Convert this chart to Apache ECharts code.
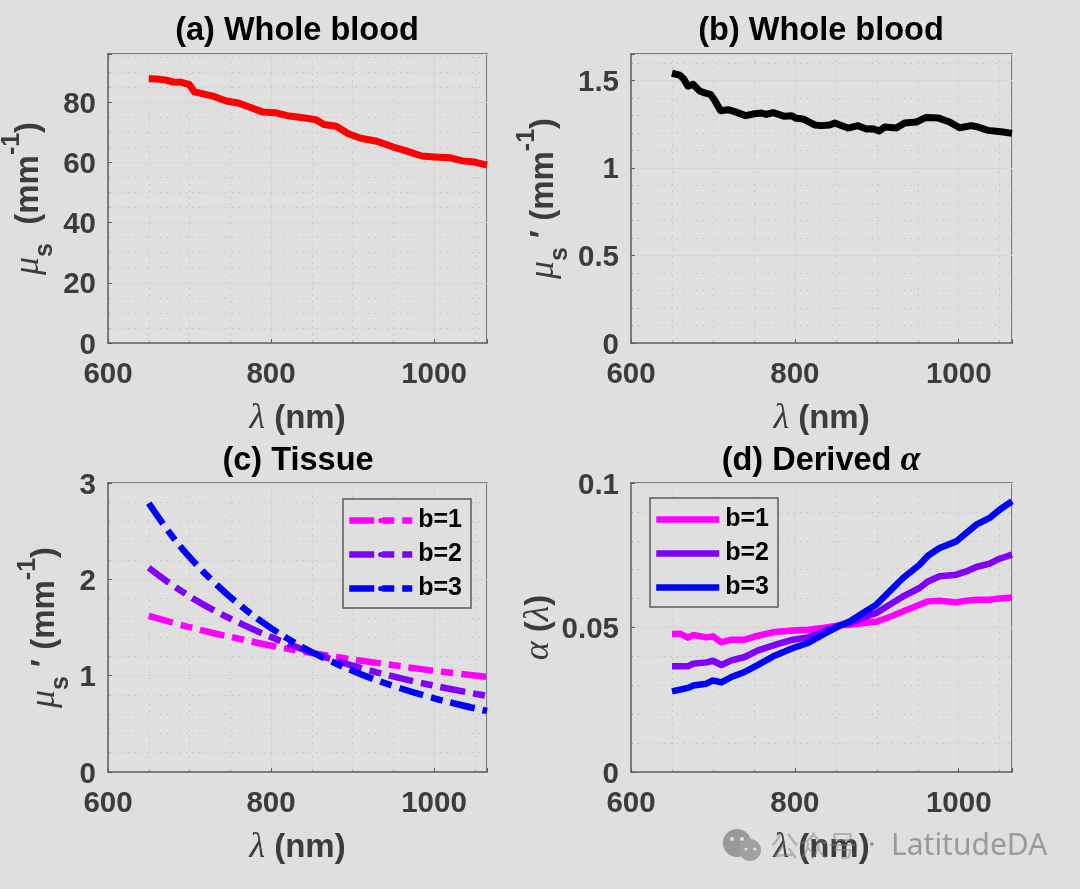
<!DOCTYPE html>
<html><head><meta charset="utf-8">
<style>html,body{margin:0;padding:0;background:#dfdfdf}#c{width:1080px;height:889px}</style>
<script src="https://cdn.jsdelivr.net/npm/echarts@6/dist/echarts.min.js"></script>
</head><body><div id="c"></div>
<script>
const xTicks = [600, 800, 1000];

const lambdaA = [650,660,670,680,690,700,706,730,745,760,775,790,805,820,835,855,865,880,895,910,930,950,965,985,1000,1020,1035,1050,1065];
const muS = [87.8,87.7,87.4,86.7,86.6,85.8,83.4,81.9,80.4,79.7,78.2,76.7,76.5,75.5,75,74.2,72.6,72,69.5,68,67,65.1,63.9,62.1,61.8,61.5,60.5,60.1,59.1];

const lambdaB = [650,652.1,659.4,664.3,669.5,675.7,683.8,689.9,696.9,702.1,709.4,718.3,726.5,739.9,750.9,759.1,765.2,773.3,787.5,795.7,801.8,810,824.2,832.3,842.5,848.5,864.8,877,887.2,895.3,902.6,909.5,923.8,933.9,948.2,960.4,974.6,988.8,1001,1015.3,1023.4,1035.6,1051.9,1065];
const muSPrimeBlood = [1.54,1.54,1.529,1.508,1.466,1.477,1.439,1.428,1.42,1.386,1.326,1.332,1.321,1.298,1.309,1.313,1.305,1.315,1.294,1.298,1.283,1.279,1.245,1.241,1.245,1.256,1.227,1.241,1.222,1.223,1.21,1.233,1.228,1.256,1.262,1.288,1.285,1.262,1.229,1.241,1.233,1.214,1.206,1.197];

const lambdaC1 = [650,697,730,763,801,840,890,932,996,1065];
const tissueB1 = [1.62,1.51,1.44,1.38,1.31,1.25,1.18,1.13,1.055,0.988];
const lambdaC2 = [650,679,721,763,806,848,890,932,996,1065];
const tissueB2 = [2.12,1.94,1.72,1.54,1.38,1.245,1.13,1.03,0.903,0.79];
const lambdaC3 = [650,675,696,730,763,801,840,869,911,954,996,1034,1065];
const tissueB3 = [2.79,2.49,2.27,1.97,1.725,1.488,1.29,1.167,1.013,0.882,0.775,0.693,0.634];

const lambdaD = [650,660,669.5,675.7,692,700,710.3,722.5,738.7,755,775.3,797.7,816,836.3,856.7,866.8,883,899.4,915.6,932,952.2,962.4,976.6,997,1009.2,1021.4,1037.7,1049.8,1065];
const alphaB1 = [.04775,.04786,.04647,.0474,.04658,.04693,.04485,.04578,.04578,.04716,.04844,.049,.04924,.0499,.0509,.05097,.05155,.052,.05363,.05558,.05789,.05904,.05927,.05869,.05927,.05962,.05962,.06007,.0604];
const alphaB2 = [.03655,.0366,.03655,.03747,.03793,.0385,.03702,.03862,.0398,.04208,.04395,.04578,.04658,.0489,.0509,.05155,.0533,.055,.0579,.06076,.06367,.06595,.0677,.06827,.0694,.07093,.07208,.0738,.0752];
const alphaB3 = [.0279,.0285,.0291,.0299,.03055,.0317,.031,.03287,.0346,.0371,.04024,.0429,.04464,.04786,.0509,.05211,.055,.0579,.0625,.06713,.07173,.07484,.0775,.0798,.0827,.08557,.0879,.09076,.0937];

const cMagenta = '#ff00ff', cPurple = '#8000ff', cBlue = '#0000ff';
const zip = (xs, ys) => xs.map((x, i) => [x, ys[i]]);

const TICK = '#3c3c3c', AXIS = '#5c5c5c', SANS = '"Liberation Sans", Arial, sans-serif', SERIF = '"Liberation Serif", serif';
const nameRich = {
  b:   {fontFamily: SANS, fontWeight: 'bold', fontSize: 33, color: TICK, lineHeight: 58},
  g:   {fontFamily: SERIF, fontStyle: 'italic', fontSize: 36, color: TICK, lineHeight: 58},
  s:   {fontFamily: SANS, fontWeight: 'bold', fontSize: 25, color: TICK, verticalAlign: 'bottom', lineHeight: 36},
  sup: {fontFamily: SANS, fontWeight: 'bold', fontSize: 25, color: TICK, verticalAlign: 'top', lineHeight: 29}
};
const xName = '{g|λ}{b| (nm)}';
const panels = [
  {left:108, top:54,  width:379, height:289, ymax:96,   yminor:5,   ymajor:20,  yticks:[0,20,40,60,80], yname:'{g|μ}{s|s}{b|  (mm}{sup|-1}{b|)}', gap:50},
  {left:631, top:54,  width:381, height:289, ymax:1.65, yminor:0.1, ymajor:0.5, yticks:[0,0.5,1,1.5], yname:'{g|μ}{s|s}{b| ′ (mm}{sup|-1}{b|)}', gap:58},
  {left:108, top:483, width:379, height:289, ymax:3,    yminor:0.2, ymajor:1,   yticks:[0,1,2,3], yname:'{g|μ}{s|s}{b| ′ (mm}{sup|-1}{b|)}', gap:34},
  {left:631, top:483, width:381, height:289, ymax:0.1,  yminor:0.01,ymajor:0.05,yticks:[0,0.05,0.1], yname:'{g|α}{b| (}{g|λ}{b|)}', gap:63}
];

const grid=[], xAxis=[], yAxis=[];
const axisLine = {show:true, onZero:false, lineStyle:{color:AXIS, width:1.5}};
const minorLine = {show:true, lineStyle:{color:'#c2c2c2', width:1, type:[1.5,5]}};
const majorLine = {show:true, lineStyle:{color:'#d6d6d6', width:1}};
const tickStyle = {lineStyle:{color:AXIS, width:1}, inside:true, length:4};
const minorTick = {lineStyle:{color:'#a0a0a0', width:1}, inside:true, length:2};
const plain = v => String(v);
panels.forEach((p, i) => {
  grid.push({left:p.left, top:p.top, width:p.width, height:p.height, show:false, outerBoundsMode:'none'});
  xAxis.push({type:'value', gridIndex:i, position:'bottom', min:600, max:1065, interval:200,
    name:xName, nameLocation:'middle', nameGap:47, nameTextStyle:{rich:nameRich},
    axisLine, axisTick:{...tickStyle},
    axisLabel:{customValues:xTicks, formatter:plain, fontFamily:SANS, fontWeight:'bold', fontSize:29.5, color:TICK, margin:15, padding:[2,0,0,0]},
    splitLine:majorLine, z:3});
  xAxis.push({type:'value', gridIndex:i, position:'top', min:600, max:1065, interval:200,
    axisLine, axisTick:{...tickStyle}, axisLabel:{show:false}, splitLine:{show:false}});
  xAxis.push({type:'value', gridIndex:i, position:'bottom', min:600, max:1065, interval:50,
    axisLine:{show:false}, axisTick:{...minorTick}, axisLabel:{show:false}, splitLine:minorLine, z:1});
  yAxis.push({type:'value', gridIndex:i, position:'left', min:0, max:p.ymax, interval:p.ymajor,
    name:p.yname, nameLocation:'middle', nameRotate:90, nameGap:p.gap, nameTextStyle:{rich:nameRich},
    axisLine, axisTick:{...tickStyle},
    axisLabel:{customValues:p.yticks, formatter:plain, fontFamily:SANS, fontWeight:'bold', fontSize:29.5, color:TICK, margin:12, verticalAlign:'top', lineHeight:5},
    splitLine:majorLine, z:3});
  yAxis.push({type:'value', gridIndex:i, position:'right', min:0, max:p.ymax, interval:p.ymajor,
    axisLine, axisTick:{...tickStyle}, axisLabel:{show:false}, splitLine:{show:false}});
  yAxis.push({type:'value', gridIndex:i, position:'left', min:0, max:p.ymax, interval:p.yminor,
    axisLine:{show:false}, axisTick:{...minorTick}, axisLabel:{show:false}, splitLine:minorLine, z:1});
});

const DASH = [25,8,12,8];
const mk = (panel, name, data, color, dashed, smooth) => ({
  type:'line', name, data, xAxisIndex:panel*3, yAxisIndex:panel*3, symbol:'none', smooth: smooth||false, silent:true,
  lineStyle:{color, width: panel<2?7:6.5, type: dashed?DASH:'solid', cap:'butt', join:'round'}, itemStyle:{color}, z:5
});
const series = [
  mk(0,'mu_s',zip(lambdaA,muS),'#ff0000'),
  mk(1,'mu_s prime',zip(lambdaB,muSPrimeBlood),'#000000'),
  mk(2,'b=1',zip(lambdaC1,tissueB1),cMagenta,true,0.4),
  mk(2,'b=2',zip(lambdaC2,tissueB2),cPurple,true,0.4),
  mk(2,'b=3',zip(lambdaC3,tissueB3),cBlue,true,0.4),
  mk(3,'b=1',zip(lambdaD,alphaB1),cMagenta),
  mk(3,'b=2',zip(lambdaD,alphaB2),cPurple),
  mk(3,'b=3',zip(lambdaD,alphaB3),cBlue)
];

const legendBase = {orient:'vertical', selectedMode:false, itemWidth:63, itemHeight:6.5, itemGap:9, padding:[9,9,7,3],
  borderColor:AXIS, borderWidth:1.5, backgroundColor:'#dfdfdf', z:10,
  textStyle:{fontFamily:SANS, fontWeight:'bold', fontSize:25, color:'#000', padding:[4,0,0,1]}};
const legItems = (type) => [['b=1',cMagenta],['b=2',cPurple],['b=3',cBlue]].map(([name,color]) =>
  ({name, lineStyle:{color, width:6.5, type, cap:'butt'}, itemStyle:{color}}));
const legend = [
  {...legendBase, left:343, top:499, data:legItems(DASH)},
  {...legendBase, left:650, top:498, data:legItems('solid')}
];

const titleStyle = {fontFamily:SANS, fontWeight:'bold', fontSize:32.5, color:'#000'};
const title = [
  ['(a) Whole blood',297,31],['(b) Whole blood',821,31],['(c) Tissue',298,461],
  ['{t|(d) Derived }{a|α}',821,461]
].map(([text,left,top]) => ({text,left,top,textAlign:'center',textVerticalAlign:'middle',padding:0,
  textStyle:{...titleStyle, rich:{t:titleStyle, a:{fontFamily:SERIF, fontStyle:'italic', fontSize:36, color:'#000'}}}}));

const wm = 'rgba(130,130,130,0.75)';
const graphic = [
  {type:'circle', shape:{cx:737,cy:843,r:14}, style:{fill:wm}, z:20},
  {type:'circle', shape:{cx:750,cy:850,r:11}, style:{fill:'#a0a0a0'}, z:21},
  {type:'circle', shape:{cx:732,cy:839,r:2}, style:{fill:'#dfdfdf'}, z:22},
  {type:'circle', shape:{cx:742,cy:839,r:2}, style:{fill:'#dfdfdf'}, z:22},
  {type:'circle', shape:{cx:746,cy:849,r:1.6}, style:{fill:'#dfdfdf'}, z:22},
  {type:'circle', shape:{cx:755,cy:849,r:1.6}, style:{fill:'#dfdfdf'}, z:22},
  {type:'text', left:770, top:831, style:{text:'公众号', font:'29px "Noto Sans CJK SC"', fill:'rgba(130,130,130,0.5)'}, z:20},
  {type:'text', left:868, top:831, style:{text:'·', font:'29px "Noto Sans"', fill:'rgba(130,130,130,0.8)'}, z:20},
  {type:'text', left:891, top:831, style:{text:'LatitudeDA', font:'30px "Noto Sans"', fill:'#9a9a9a'}, z:20}
];

const chart = echarts.init(document.getElementById('c'), null, {renderer:'canvas'});
chart.setOption({animation:false, backgroundColor:'#dfdfdf', title, grid, xAxis, yAxis, series, legend, graphic});
</script></body></html>
